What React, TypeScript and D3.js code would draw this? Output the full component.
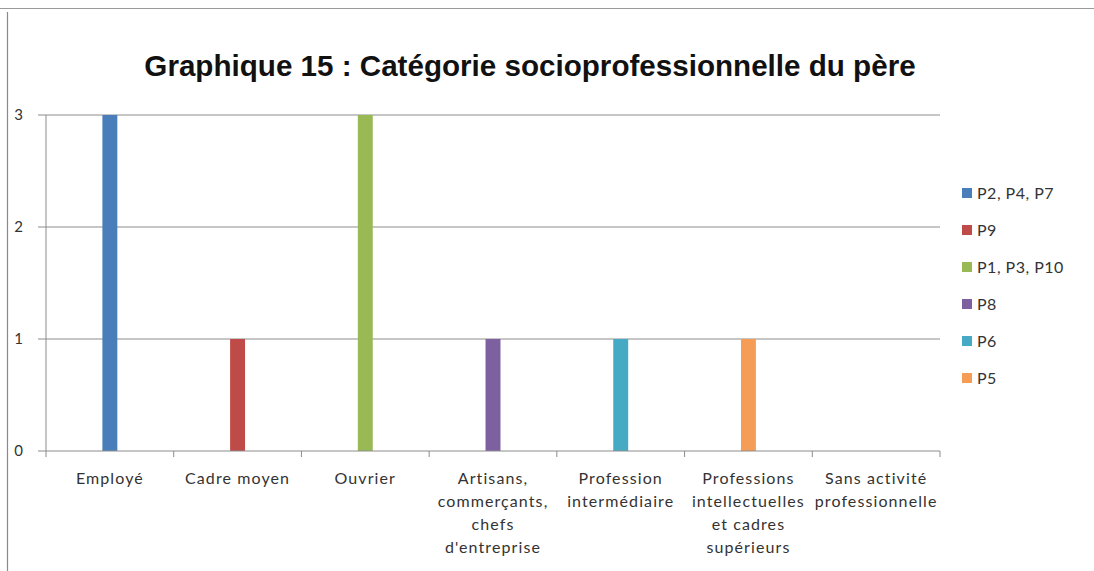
import React from "react";
import * as d3 from "d3";

const categories: string[][] = [
  ["Employé"],
  ["Cadre moyen"],
  ["Ouvrier"],
  ["Artisans,", "commerçants,", "chefs", "d'entreprise"],
  ["Profession", "intermédiaire"],
  ["Professions", "intellectuelles", "et cadres", "supérieurs"],
  ["Sans activité", "professionnelle"],
];
const categoryKeys = categories.map((c) => c.join(" "));

const seriesNames = ["P2, P4, P7", "P9", "P1, P3, P10", "P8", "P6", "P5"];
const seriesColors = ["#4A7EBB", "#BE4B48", "#98B954", "#7D60A0", "#46AAC5", "#F59D56"];
// value of each series per category
const seriesValues: number[][] = [
  [3, 0, 0, 0, 0, 0, 0],
  [0, 1, 0, 0, 0, 0, 0],
  [0, 0, 3, 0, 0, 0, 0],
  [0, 0, 0, 1, 0, 0, 0],
  [0, 0, 0, 0, 1, 0, 0],
  [0, 0, 0, 0, 0, 1, 0],
];
const yTicks = [0, 1, 2, 3];
const title = "Graphique 15 : Catégorie socioprofessionnelle du père";

export default function App() {
  const W = 1094;
  const H = 571;
  const plotL = 46;
  const plotR = 940;
  const plotT = 115;
  const plotB = 451;
  const x = d3.scaleBand<string>().domain(categoryKeys).range([plotL, plotR]).padding(0);
  const y = d3.scaleLinear().domain([0, 3]).range([plotB, plotT]);
  const barW = x.bandwidth() * 0.117;
  const font = "Lato, 'Open Sans', sans-serif";
  const textColor = "#333";

  const bars: JSX.Element[] = [];
  seriesValues.forEach((vals, si) => {
    vals.forEach((v, ci) => {
      if (v <= 0) return;
      const cx = (x(categoryKeys[ci]) as number) + x.bandwidth() / 2;
      bars.push(
        <rect
          key={`b-${si}-${ci}`}
          x={cx - barW / 2}
          y={y(v)}
          width={barW}
          height={y(0) - y(v)}
          fill={seriesColors[si]}
        />
      );
    });
  });

  return (
    <svg
      width={W}
      height={H}
      style={{ position: "absolute", left: 0, top: 0, background: "#fff" }}
    >
      <rect x={0} y={0} width={W} height={H} fill="#fff" />
      {/* frame lines */}
      <line x1={0} x2={W} y1={8.5} y2={8.5} stroke="#9a9a9a" strokeWidth={1.2} />
      <line x1={7.5} x2={7.5} y1={12} y2={H} stroke="#8a8a8a" strokeWidth={1.2} />

      <text
        x={530}
        y={76}
        textAnchor="middle"
        fontFamily="'Liberation Sans', Arial, sans-serif"
        fontWeight="bold"
        fontSize={29.6}
        fill="#111"
      >
        {title}
      </text>

      {/* gridlines */}
      {yTicks.map((t) => (
        <g key={`g-${t}`}>
          {t > 0 && (
            <line x1={plotL} x2={plotR} y1={y(t)} y2={y(t)} stroke="#8c8c8c" strokeWidth={1} />
          )}
          <line x1={38} x2={plotL} y1={y(t)} y2={y(t)} stroke="#8c8c8c" strokeWidth={1} />
          <text
            x={23}
            y={y(t) + 5}
            textAnchor="end"
            fontFamily={font}
            fontSize={15}
            fill={textColor}
          >
            {t}
          </text>
        </g>
      ))}

      {bars}

      {/* axes */}
      <line x1={plotL} x2={plotL} y1={plotT} y2={plotB} stroke="#8c8c8c" strokeWidth={1} />
      <line x1={plotL} x2={plotR} y1={plotB} y2={plotB} stroke="#8c8c8c" strokeWidth={1} />
      {[...categoryKeys.map((k) => x(k) as number), plotR].map((tx, i) => (
        <line key={`xt-${i}`} x1={tx} x2={tx} y1={plotB} y2={plotB + 6} stroke="#8c8c8c" />
      ))}
      {categories.map((lines, ci) => {
        const cx = (x(categoryKeys[ci]) as number) + x.bandwidth() / 2;
        return (
          <text
            key={`xl-${ci}`}
            x={cx}
            textAnchor="middle"
            fontFamily={font}
            fontSize={16}
            letterSpacing={1.1}
            fill={textColor}
          >
            {lines.map((ln, li) => (
              <tspan key={li} x={cx} y={484 + li * 23}>
                {ln}
              </tspan>
            ))}
          </text>
        );
      })}

      {/* legend */}
      {seriesNames.map((name, i) => {
        const ly = 193 + i * 37;
        return (
          <g key={`lg-${i}`}>
            <rect x={962} y={ly - 5} width={10} height={10} fill={seriesColors[i]} />
            <text
              x={977}
              y={ly + 6}
              fontFamily={font}
              fontSize={16}
              letterSpacing={0.5}
              fill={textColor}
            >
              {name}
            </text>
          </g>
        );
      })}
    </svg>
  );
}
